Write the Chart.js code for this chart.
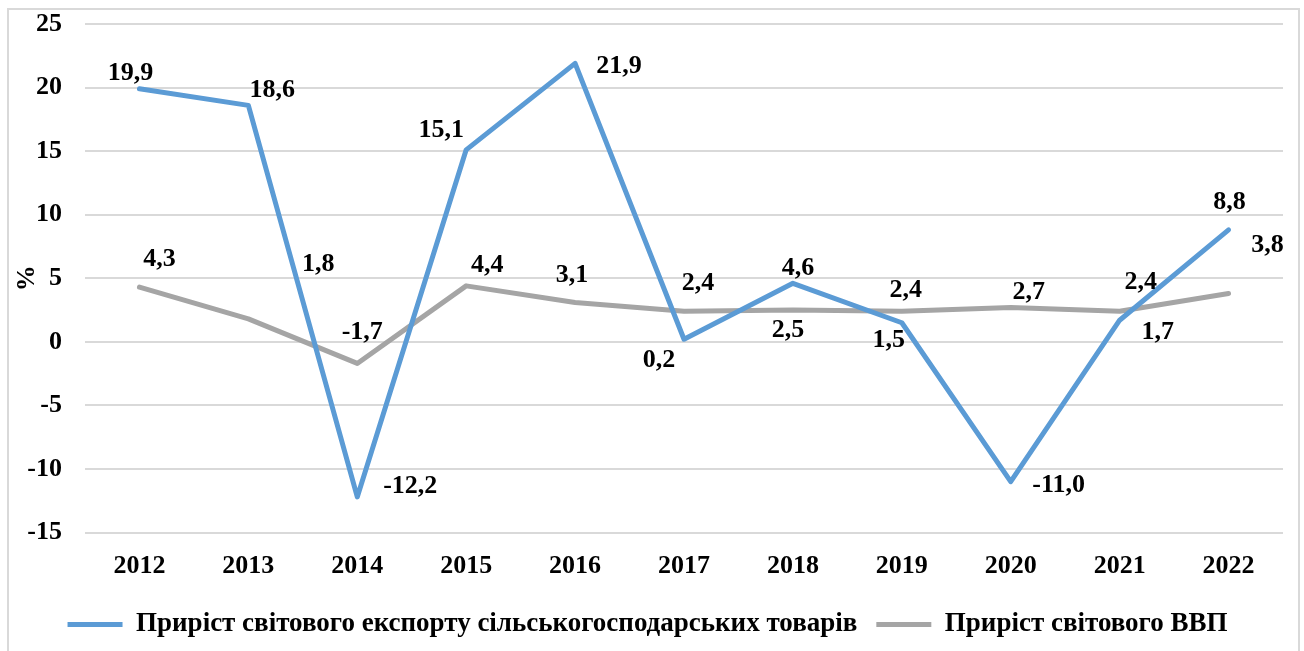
<!DOCTYPE html>
<html>
<head>
<meta charset="utf-8">
<script src="https://cdn.jsdelivr.net/npm/chart.js@4/dist/chart.umd.min.js"></script>
<style>
  body { margin: 0; background: #fff; }
  #wrap { position: relative; width: 1304px; height: 651px; overflow: hidden; }
  #frame { position: absolute; left: 7px; top: 8px; width: 1289px; height: 660px; border: 2px solid #d9d9d9; pointer-events: none; }
  canvas { position: absolute; left: 0; top: 0; }
</style>
</head>
<body>
<div id="wrap">
  <canvas id="chart" width="1304" height="651"></canvas>
  <div id="frame"></div>
</div>
<script>
const years = ["2012", "2013", "2014", "2015", "2016", "2017", "2018", "2019", "2020", "2021", "2022"];
const exportGrowth = [19.9, 18.6, -12.2, 15.1, 21.9, 0.2, 4.6, 1.5, -11.0, 1.7, 8.8];
const gdpGrowth = [4.3, 1.8, -1.7, 4.4, 3.1, 2.4, 2.5, 2.4, 2.7, 2.4, 3.8];
const yTicks = [25, 20, 15, 10, 5, 0, -5, -10, -15];

// where each value label sits relative to its point (px)
const exportLabelShift = [[-9, -16], [24, -15], [53, -11], [-25, -20], [44, 3], [-25, 21], [5, -15], [-13, 18], [48, 4], [38, 12], [1, -28]];
const gdpLabelShift = [[20, -28], [70, -55], [5, -31], [21, -21], [-3, -27], [14, -28], [-5, 20], [4, -21], [18, -15], [21, -29], [39, -48]];

const FONT = "'Liberation Serif', 'Times New Roman', serif";

const valueLabels = {
  id: "valueLabels",
  afterDatasetsDraw(chart) {
    const ctx = chart.ctx;
    const shifts = [exportLabelShift, gdpLabelShift];
    ctx.save();
    ctx.font = "bold 26px " + FONT;
    ctx.fillStyle = "#000";
    ctx.textAlign = "center";
    ctx.textBaseline = "middle";
    chart.data.datasets.forEach((ds, d) => {
      chart.getDatasetMeta(d).data.forEach((pt, i) => {
        const txt = ds.data[i].toFixed(1).replace(".", ",");
        ctx.fillText(txt, pt.x + shifts[d][i][0], pt.y + shifts[d][i][1]);
      });
    });
    ctx.restore();
  }
};

new Chart(document.getElementById("chart"), {
  type: "line",
  data: {
    labels: years,
    datasets: [{
      label: "Приріст світового експорту сільськогосподарських товарів",
      data: exportGrowth,
      borderColor: "#5b9bd5",
      backgroundColor: "#5b9bd5",
      borderWidth: 5,
      borderCapStyle: "round",
      borderJoinStyle: "round",
      pointRadius: 0,
      tension: 0
    }, {
      label: "Приріст світового ВВП",
      data: gdpGrowth,
      borderColor: "#a5a5a5",
      backgroundColor: "#a5a5a5",
      borderWidth: 5,
      borderCapStyle: "round",
      borderJoinStyle: "round",
      pointRadius: 0,
      tension: 0
    }]
  },
  options: {
    responsive: false,
    animation: false,
    devicePixelRatio: 1,
    layout: { padding: { left: 12, right: 21, top: 24, bottom: 3 } },
    plugins: {
      tooltip: { enabled: false },
      legend: {
        position: "bottom",
        labels: {
          usePointStyle: true,
          pointStyle: "line",
          pointStyleWidth: 55,
          boxHeight: 22,
          padding: 19,
          color: "#000",
          font: { family: FONT, size: 27, weight: "bold" }
        }
      }
    },
    scales: {
      x: {
        offset: true,
        afterFit: s => { s.height = 59.5; s.paddingLeft = 0; s.paddingRight = 0; },
        grid: { display: false, drawTicks: false },
        border: { display: false },
        ticks: { color: "#000", padding: 18, font: { family: FONT, size: 26, weight: "bold" } }
      },
      y: {
        min: -15,
        max: 25,
        afterFit: s => { s.width = 73; s.paddingTop = 0; s.paddingBottom = 0; },
        afterBuildTicks: s => { s.ticks = yTicks.map(v => ({ value: v })); },
        grid: { color: "#d9d9d9", lineWidth: 2, drawTicks: false },
        border: { display: false },
        ticks: { color: "#000", padding: 23, font: { family: FONT, size: 26, weight: "bold" } },
        title: { display: true, text: "%", color: "#000", padding: { top: 0 }, font: { family: FONT, size: 26, weight: "bold" } }
      }
    }
  },
  plugins: [valueLabels]
});
</script>
</body>
</html>
